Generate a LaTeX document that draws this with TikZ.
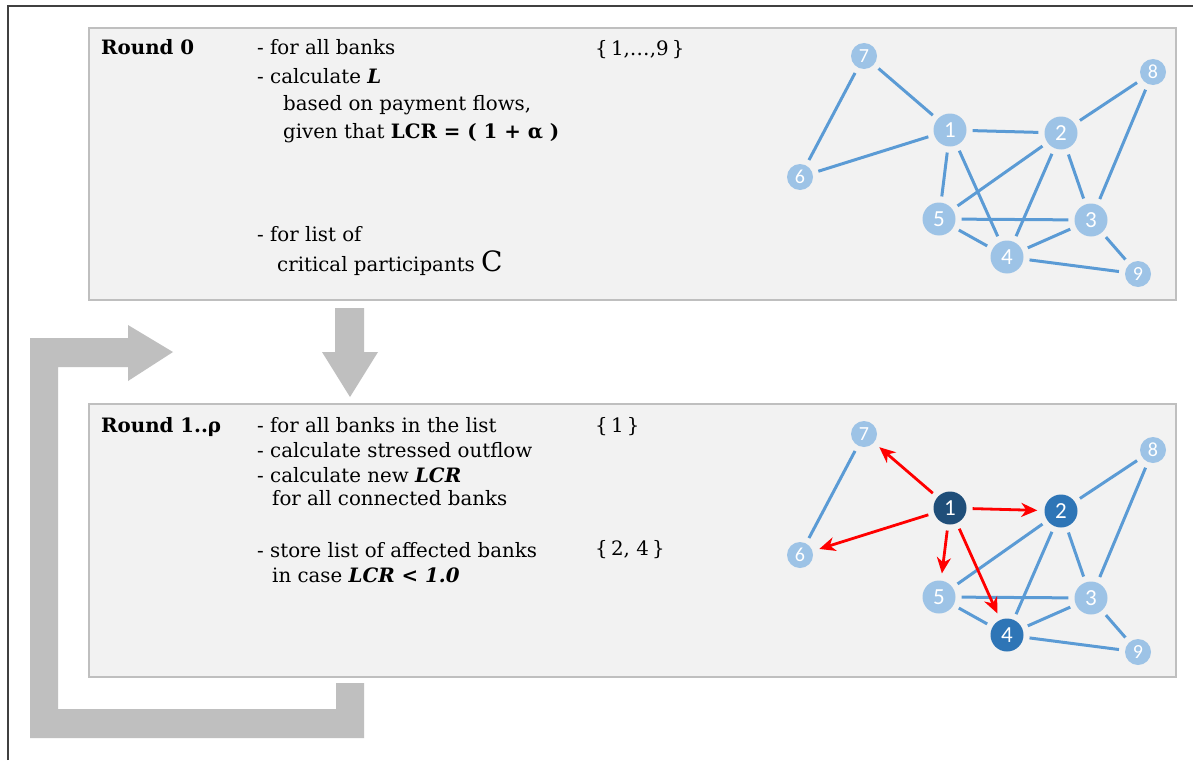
\documentclass[tikz,border=0pt]{standalone}
\usepackage{fontspec}
\setmainfont{DejaVu Serif}
\newfontfamily\numfont{Carlito}
\usetikzlibrary{arrows.meta}
\definecolor{boxfill}{HTML}{F2F2F2}
\definecolor{boxline}{HTML}{BFBFBF}
\definecolor{flow}{HTML}{BFBFBF}
\definecolor{edgeblue}{HTML}{5B9BD5}
\definecolor{nlight}{HTML}{9DC3E6}
\definecolor{nmid}{HTML}{2E75B6}
\definecolor{ndark}{HTML}{1F4E79}
\definecolor{redarrow}{HTML}{FF0000}
\definecolor{framec}{HTML}{404040}
\newcommand{\fs}{\fontsize{19.8}{23}\selectfont}
\tikzset{
  panel/.style={draw=boxline, line width=1.2pt, fill=boxfill, inner sep=0, rectangle},
  txt/.style={anchor=base west, inner sep=0, font=\fs},
  bignode/.style={circle, fill=nlight, minimum size=33pt, inner sep=0, text=white, font=\numfont\fontsize{23}{23}\selectfont},
  smallnode/.style={circle, fill=nlight, minimum size=26pt, inner sep=0, text=white, font=\numfont\fontsize{20}{20}\selectfont},
  edge/.style={draw=edgeblue, line width=3pt, shorten >=6pt, shorten <=6pt},
  redarr/.style={draw=redarrow, line width=2.8pt, shorten >=7pt, shorten <=6pt, -{Stealth[length=16pt,width=14pt,inset=5pt]}},
  flowshape/.style={fill=flow, draw=none}
}
\begin{document}
\begin{tikzpicture}[x=1pt,y=-1pt]
\useasboundingbox (0,0) rectangle (1193,760);
\fill[white] (0,0) rectangle (1193,760);
\draw[framec, line width=1.5pt] (8,760) -- (8,6) -- (1193,6);

% panels
\node[panel, minimum width=1087pt, minimum height=272pt] (box0) at (632.5,164) {};
\node[panel, minimum width=1087pt, minimum height=273pt] (box1) at (632.5,540.5) {};

% gray flow arrows
\fill[flowshape] (335,308) -- (364,308) -- (364,352) -- (378,352) -- (350,397) -- (322,352) -- (335,352) -- cycle;
\fill[flowshape] (364,683) -- (364,738) -- (30,738) -- (30,338) -- (128,338) -- (128,325) -- (173,352) -- (128,381) -- (128,367) -- (58,367) -- (58,709) -- (336,709) -- (336,683) -- cycle;

% round 0 text
\node[txt] (r0) at (101,55) {\textbf{Round 0}};
\node[txt] (t01) at (257,55) {- for all banks};
\node[txt] (t02) at (257,83) {- calculate \textbf{\textit{L}}};
\node[txt] (t03) at (283,110) {based on payment flows,};
\node[txt] (t04) at (283,138) {given that \textbf{LCR = ( 1 + α )}};
\node[txt] (t05) at (257,241) {- for list of};
\node[txt] (t06) at (277,271) {critical participants {\fontsize{28}{28}\selectfont C}};
\node[txt] (s01) at (595,56) {\textbraceleft\,1,…,9\,\textbraceright};

% round 1 text
\node[txt] (r1) at (101,432) {\textbf{Round 1..ρ}};
\node[txt] (t11) at (257,432) {- for all banks in the list};
\node[txt] (t12) at (257,457) {- calculate stressed outflow};
\node[txt] (t13) at (257,482) {- calculate new \textbf{\textit{LCR}}};
\node[txt] (t14) at (272,505) {for all connected banks};
\node[txt] (t15) at (257,557) {- store list of affected banks};
\node[txt] (t16) at (272,582) {in case \textbf{\textit{LCR < 1.0}}};
\node[txt] (s11) at (595,432) {\textbraceleft\,1\,\textbraceright};
\node[txt] (s12) at (595,555) {\textbraceleft\,2, 4\,\textbraceright};

% top network
\node[bignode] (a1) at (950,130) {1};
\node[bignode] (a2) at (1061,133) {2};
\node[bignode] (a3) at (1091,220) {3};
\node[bignode] (a4) at (1007,257) {4};
\node[bignode] (a5) at (939,219) {5};
\node[smallnode] (a6) at (800,177) {6};
\node[smallnode] (a7) at (864,56) {7};
\node[smallnode] (a8) at (1153,72) {8};
\node[smallnode] (a9) at (1138,274) {9};
\foreach \u/\v in {a7/a1,a7/a6,a6/a1,a1/a2,a1/a5,a1/a4,a2/a8,a2/a5,a2/a4,a2/a3,a8/a3,a5/a3,a5/a4,a4/a3,a3/a9,a4/a9}
  \draw[edge] (\u) -- (\v);

% bottom network
\node[bignode, fill=ndark] (b1) at (950,508) {1};
\node[bignode, fill=nmid] (b2) at (1061,511) {2};
\node[bignode] (b3) at (1091,598) {3};
\node[bignode, fill=nmid] (b4) at (1007,635) {4};
\node[bignode] (b5) at (939,597) {5};
\node[smallnode] (b6) at (800,555) {6};
\node[smallnode] (b7) at (864,434) {7};
\node[smallnode] (b8) at (1153,450) {8};
\node[smallnode] (b9) at (1138,652) {9};
\foreach \u/\v in {b7/b6,b2/b8,b2/b5,b2/b4,b2/b3,b8/b3,b5/b3,b5/b4,b4/b3,b3/b9,b4/b9}
  \draw[edge] (\u) -- (\v);
\foreach \v in {b7,b6,b2,b5,b4}
  \draw[redarr] (b1) -- (\v);
\end{tikzpicture}
\end{document}
